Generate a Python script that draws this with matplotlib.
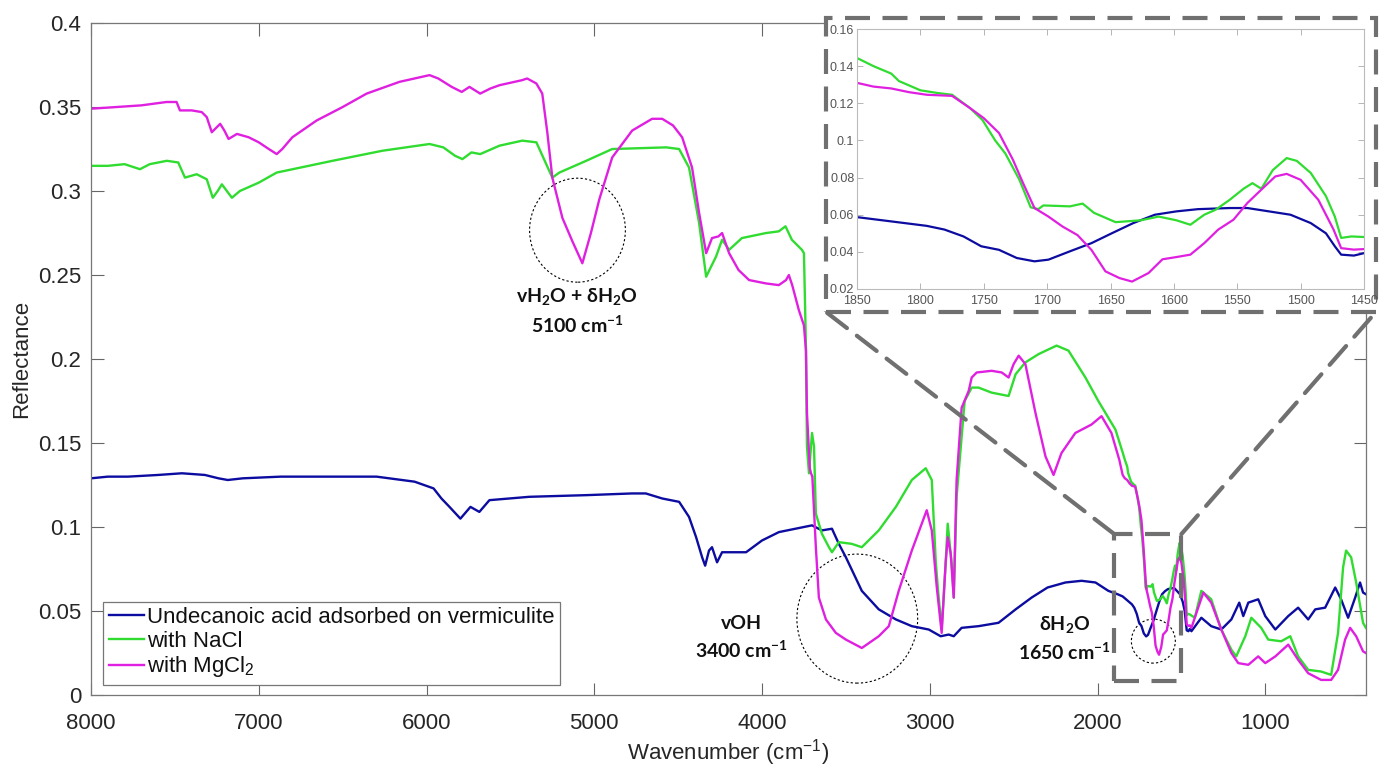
import matplotlib.pyplot as plt
from matplotlib.patches import Rectangle, Ellipse, ConnectionPatch
from matplotlib.ticker import FuncFormatter

plt.rcParams['font.family'] = ['Liberation Sans', 'DejaVu Sans']
plt.rcParams['mathtext.default'] = 'regular'

# Undecanoic acid adsorbed on vermiculite
wn_blue = [8000, 7900, 7780, 7600, 7458, 7321, 7240, 7185, 7095, 6869, 6637, 6298,
           6071, 5958, 5911, 5863, 5798, 5738, 5685, 5625, 5387, 5042, 4774, 4693,
           4595, 4494, 4435, 4393, 4357, 4339, 4316, 4298, 4268, 4238, 4095, 4000,
           3899, 3702, 3643, 3583, 3542, 3500, 3405, 3304, 3202, 3107, 3006, 2935,
           2887, 2857, 2810, 2709, 2590, 2488, 2393, 2298, 2191, 2095, 2012, 1935,
           1880, 1850, 1823, 1795, 1781, 1766, 1752, 1738, 1724, 1710, 1699, 1682,
           1665, 1649, 1632, 1615, 1598, 1581, 1556, 1542, 1525, 1508, 1492, 1480,
           1473, 1468, 1458, 1450, 1440, 1381, 1322, 1262, 1202, 1155, 1131, 1101,
           1042, 1000, 940, 863, 804, 744, 702, 643, 583, 548, 506, 464, 435, 417, 400]
refl_blue = [0.129, 0.130, 0.130, 0.131, 0.132, 0.131, 0.129, 0.128, 0.129, 0.130, 0.130, 0.130,
             0.127, 0.123, 0.117, 0.112, 0.105, 0.112, 0.109, 0.116, 0.118, 0.119, 0.120, 0.120,
             0.117, 0.115, 0.106, 0.094, 0.082, 0.077, 0.086, 0.088, 0.079, 0.085, 0.085, 0.092,
             0.097, 0.101, 0.098, 0.099, 0.090, 0.082, 0.062, 0.051, 0.045, 0.041, 0.039, 0.035,
             0.036, 0.035, 0.040, 0.041, 0.043, 0.051, 0.058, 0.064, 0.067, 0.068, 0.067, 0.062,
             0.060, 0.0587, 0.0564, 0.054, 0.052, 0.0483, 0.043, 0.0411, 0.0367, 0.0349, 0.0358, 0.0403,
             0.0447, 0.050, 0.0555, 0.060, 0.0618, 0.063, 0.0636, 0.0636, 0.0618, 0.060, 0.0555, 0.050,
             0.043, 0.0385, 0.038, 0.0393, 0.038, 0.046, 0.041, 0.039, 0.045, 0.055, 0.047, 0.055,
             0.057, 0.047, 0.039, 0.047, 0.052, 0.045, 0.051, 0.052, 0.064, 0.057, 0.046, 0.058, 0.067, 0.061, 0.060]

# with NaCl
wn_green = [8000, 7900, 7800, 7708, 7650, 7548, 7480, 7440, 7370, 7310, 7274, 7245,
            7220, 7190, 7160, 7113, 7000, 6893, 6560, 6262, 5982, 5900, 5830, 5786,
            5732, 5680, 5565, 5429, 5345, 5286, 5250, 5208, 5048, 4893, 4571, 4494,
            4435, 4375, 4333, 4274, 4238, 4196, 4120, 3976, 3900, 3860, 3822, 3762,
            3750, 3738, 3732, 3720, 3702, 3690, 3679, 3643, 3601, 3583, 3542, 3465,
            3405, 3304, 3202, 3107, 3024, 2988, 2964, 2952, 2929, 2905, 2893, 2870,
            2857, 2840, 2792, 2750, 2709, 2631, 2530, 2488, 2430, 2350, 2244, 2173,
            2072, 1995, 1893, 1850, 1837, 1823, 1817, 1800, 1786, 1775, 1761, 1751,
            1741, 1733, 1722, 1713, 1707, 1703, 1682, 1672, 1663, 1646, 1626, 1612,
            1598, 1587, 1576, 1567, 1556, 1545, 1538, 1531, 1522, 1511, 1503, 1492,
            1480, 1473, 1468, 1460, 1450, 1420, 1381, 1322, 1262, 1202, 1173, 1119,
            1083, 1024, 982, 905, 851, 804, 744, 667, 607, 566, 536, 518, 488, 458, 417, 400]
refl_green = [0.315, 0.315, 0.316, 0.313, 0.316, 0.318, 0.317, 0.308, 0.310, 0.307, 0.296, 0.300,
              0.304, 0.300, 0.296, 0.300, 0.305, 0.311, 0.318, 0.324, 0.328, 0.326, 0.321, 0.319,
              0.323, 0.322, 0.327, 0.330, 0.329, 0.316, 0.308, 0.311, 0.318, 0.325, 0.326, 0.325,
              0.314, 0.281, 0.249, 0.261, 0.271, 0.265, 0.272, 0.275, 0.276, 0.279, 0.271, 0.265,
              0.263, 0.207, 0.148, 0.132, 0.156, 0.148, 0.108, 0.096, 0.088, 0.085, 0.091, 0.090,
              0.088, 0.098, 0.112, 0.128, 0.135, 0.128, 0.079, 0.064, 0.039, 0.079, 0.102, 0.079,
              0.058, 0.118, 0.175, 0.183, 0.183, 0.180, 0.178, 0.191, 0.198, 0.203, 0.208, 0.205,
              0.189, 0.175, 0.158, 0.1444, 0.140, 0.136, 0.132, 0.127, 0.1255, 0.1246, 0.1175, 0.111,
              0.100, 0.093, 0.079, 0.064, 0.063, 0.065, 0.0645, 0.066, 0.061, 0.056, 0.057, 0.059,
              0.057, 0.0546, 0.060, 0.0627, 0.068, 0.074, 0.077, 0.074, 0.084, 0.0905, 0.089, 0.0825,
              0.070, 0.059, 0.0475, 0.0483, 0.048, 0.046, 0.062, 0.057, 0.039, 0.027, 0.023, 0.035,
              0.046, 0.040, 0.033, 0.032, 0.035, 0.023, 0.015, 0.014, 0.012, 0.037, 0.076, 0.086, 0.082, 0.067, 0.043, 0.040]

# with MgCl2
wn_mag = [8000, 7850, 7700, 7550, 7490, 7470, 7400, 7340, 7310, 7280, 7250, 7230,
          7205, 7180, 7130, 7060, 7000, 6940, 6893, 6860, 6800, 6655, 6500, 6357,
          6161, 5982, 5930, 5850, 5790, 5744, 5680, 5620, 5565, 5430, 5400, 5345,
          5310, 5280, 5250, 5190, 5130, 5071, 5020, 4970, 4893, 4774, 4655, 4595,
          4530, 4476, 4417, 4375, 4333, 4298, 4260, 4238, 4196, 4140, 4077, 3976,
          3900, 3857, 3840, 3820, 3780, 3750, 3738, 3732, 3715, 3708, 3700, 3679,
          3661, 3619, 3560, 3500, 3405, 3304, 3244, 3185, 3107, 3018, 2988, 2958,
          2929, 2905, 2893, 2875, 2857, 2840, 2810, 2768, 2750, 2720, 2631, 2571,
          2530, 2500, 2470, 2430, 2370, 2310, 2262, 2215, 2132, 2036, 1976, 1917,
          1870, 1850, 1837, 1823, 1809, 1795, 1775, 1761, 1750, 1738, 1727, 1719,
          1710, 1699, 1688, 1676, 1665, 1654, 1643, 1633, 1620, 1609, 1598, 1587,
          1576, 1565, 1553, 1542, 1531, 1520, 1511, 1500, 1486, 1474, 1468, 1458,
          1450, 1440, 1410, 1369, 1322, 1262, 1202, 1161, 1101, 1042, 1000, 940,
          863, 804, 744, 667, 607, 566, 524, 494, 458, 417, 400]
refl_mag = [0.349, 0.350, 0.351, 0.353, 0.353, 0.348, 0.348, 0.347, 0.344, 0.335, 0.338, 0.340,
            0.336, 0.331, 0.334, 0.332, 0.329, 0.325, 0.322, 0.325, 0.332, 0.342, 0.350, 0.358,
            0.365, 0.369, 0.367, 0.362, 0.359, 0.362, 0.358, 0.361, 0.363, 0.366, 0.367, 0.364,
            0.358, 0.335, 0.308, 0.284, 0.270, 0.257, 0.275, 0.295, 0.320, 0.336, 0.343, 0.343,
            0.339, 0.332, 0.314, 0.287, 0.263, 0.272, 0.273, 0.275, 0.263, 0.253, 0.247, 0.245,
            0.244, 0.247, 0.250, 0.244, 0.229, 0.220, 0.205, 0.168, 0.135, 0.132, 0.130, 0.088,
            0.058, 0.045, 0.037, 0.033, 0.028, 0.035, 0.041, 0.062, 0.086, 0.110, 0.098, 0.064,
            0.037, 0.079, 0.094, 0.084, 0.058, 0.128, 0.171, 0.181, 0.189, 0.192, 0.193, 0.192,
            0.189, 0.197, 0.202, 0.197, 0.168, 0.142, 0.131, 0.144, 0.156, 0.161, 0.166, 0.156,
            0.140, 0.131, 0.129, 0.128, 0.126, 0.1246, 0.124, 0.1175, 0.112, 0.104, 0.0896, 0.077,
            0.0636, 0.059, 0.0537, 0.049, 0.041, 0.0295, 0.0259, 0.024, 0.0286, 0.036, 0.0372, 0.0385,
            0.0447, 0.052, 0.0573, 0.0663, 0.0735, 0.0806, 0.082, 0.0788, 0.068, 0.052, 0.042, 0.0412,
            0.0415, 0.040, 0.049, 0.061, 0.055, 0.039, 0.025, 0.019, 0.018, 0.023, 0.019, 0.023,
            0.030, 0.021, 0.013, 0.009, 0.009, 0.015, 0.033, 0.040, 0.035, 0.026, 0.025]

labels = ['Undecanoic acid adsorbed on vermiculite', 'with NaCl', 'with MgCl$_2$']
colors = ['#0c0ca0', '#30dc30', '#e020e0']
x_ticks = [8000, 7000, 6000, 5000, 4000, 3000, 2000, 1000]
y_ticks = [0, 0.05, 0.1, 0.15, 0.2, 0.25, 0.3, 0.35, 0.4]
inset_x_ticks = [1850, 1800, 1750, 1700, 1650, 1600, 1550, 1500, 1450]
inset_y_ticks = [0.02, 0.04, 0.06, 0.08, 0.1, 0.12, 0.14, 0.16]

series = [(wn_blue, refl_blue), (wn_green, refl_green), (wn_mag, refl_mag)]
fmt = FuncFormatter(lambda v, p: f'{v:g}')
dash_gray = '#707070'

fig = plt.figure(figsize=(13.79, 7.68), dpi=100)
ax = fig.add_axes([0.066, 0.095, 0.9245, 0.875])

for (x, y), c, lab in zip(series, colors, labels):
    ax.plot(x, y, color=c, lw=1.7, label=lab)

ax.set_xlim(8000, 400)
ax.set_ylim(0, 0.4)
ax.set_xticks(x_ticks)
ax.set_yticks(y_ticks)
ax.xaxis.set_major_formatter(fmt)
ax.yaxis.set_major_formatter(fmt)
ax.tick_params(direction='in', top=True, right=True, length=9, width=0.8,
               color='#666666', labelsize=16, labelcolor='#262626', pad=7)
ax.tick_params(axis='x', pad=13)
for s in ax.spines.values():
    s.set_color('#777777')
    s.set_linewidth(0.9)
ax.set_xlabel('Wavenumber (cm$^{-1}$)', fontsize=16, color='#262626', labelpad=2)
ax.set_ylabel('Reflectance', fontsize=16, color='#262626', labelpad=4)

leg = ax.legend(loc='lower left', bbox_to_anchor=(0.0094, 0.015), borderaxespad=0,
                fontsize=16, handlelength=1.6, handletextpad=0.15, labelspacing=0.12,
                borderpad=0.25, fancybox=False, framealpha=1, edgecolor='#777777')
leg.get_frame().set_linewidth(0.9)
for t in leg.get_texts():
    t.set_color('#111111')

# dotted circles around the bands
circle_style = dict(fill=False, ls=(0, (2, 2)), lw=0.8, color='black')
ax.add_patch(Ellipse((5100, 0.2767), 571, 0.0619, **circle_style))
ax.add_patch(Ellipse((3432, 0.0455), 720, 0.0768, **circle_style))
ax.add_patch(Ellipse((1667, 0.0321), 262, 0.0262, **circle_style))

note = dict(ha='center', va='center', fontsize=14, fontweight='bold',
            family=['Lato', 'DejaVu Sans'], color='#111111')
ax.text(5100, 0.237, 'vH$_2$O + δH$_2$O', **note)
ax.text(5100, 0.220, '5100 cm$^{-1}$', **note)
ax.text(4125, 0.0428, 'vOH', **note)
ax.text(4125, 0.0268, '3400 cm$^{-1}$', **note)
ax.text(2197, 0.0417, 'δH$_2$O', **note)
ax.text(2197, 0.0256, '1650 cm$^{-1}$', **note)

# zoom box in the main plot
dash = (0, (6, 3))
ax.add_patch(Rectangle((1900, 0.0083), -400, 0.0875, fill=False, ec=dash_gray,
                       lw=3, ls=dash, zorder=5))

# dashed frame around the inset
bx0, by0, bx1, by1 = 0.599, 0.5938, 0.9978, 0.9766
fig.patches.append(Rectangle((bx0, by0), bx1 - bx0, by1 - by0, transform=fig.transFigure,
                             fc='white', ec=dash_gray, lw=3, ls=dash, zorder=1))
for xa, xb in [(1900, bx0), (1500, bx1)]:
    con = ConnectionPatch(xyA=(xa, 0.0958), coordsA=ax.transData,
                          xyB=(xb, by0), coordsB=fig.transFigure,
                          color=dash_gray, lw=3, ls=dash, zorder=1)
    fig.add_artist(con)

ins = fig.add_axes([0.6215, 0.6237, 0.3676, 0.3385], zorder=2)
for (x, y), c in zip(series, colors):
    ins.plot(x, y, color=c, lw=1.6)
ins.set_xlim(1850, 1450)
ins.set_ylim(0.02, 0.16)
ins.set_xticks(inset_x_ticks)
ins.set_yticks(inset_y_ticks)
ins.xaxis.set_major_formatter(fmt)
ins.yaxis.set_major_formatter(fmt)
ins.tick_params(direction='in', top=True, right=True, length=4, width=0.6,
                color='#aaaaaa', labelsize=9, labelcolor='#555555', pad=2)
ins.tick_params(axis='x', pad=4)
for s in ins.spines.values():
    s.set_color('#bbbbbb')
    s.set_linewidth(0.8)

fig.savefig('out.png', dpi=100)
